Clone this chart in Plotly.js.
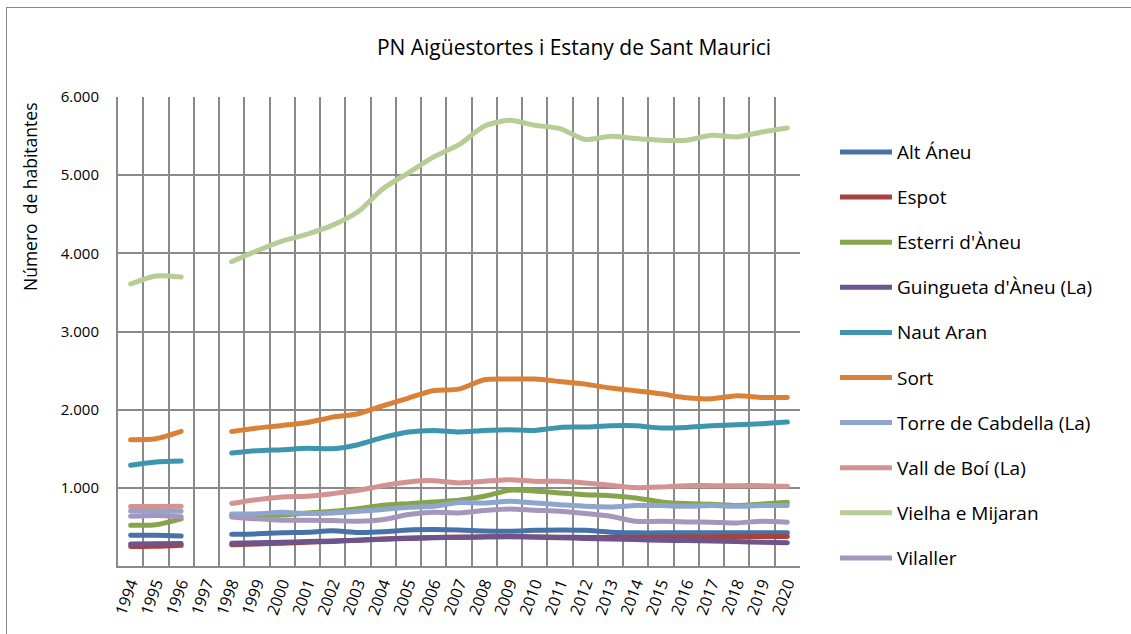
<!DOCTYPE html>
<html>
<head>
<meta charset="utf-8">
<script src="https://cdn.plot.ly/plotly-3.0.1.min.js"></script>
<style>
  html, body { margin: 0; padding: 0; background: #fff; }
  #wrap { position: relative; width: 1131px; height: 634px; overflow: hidden; }
  #chart { position: absolute; left: 0; top: 0; width: 1131px; height: 634px; }
  #frame { position: absolute; left: 6px; top: 7px; width: 1140px; height: 640px;
           border: 1px solid #8a8a8a; box-sizing: border-box; pointer-events: none; }
  .js-line { stroke-linecap: round; stroke-linejoin: round; }
</style>
</head>
<body>
<div id="wrap">
  <div id="chart"></div>
  <div id="frame"></div>
</div>
<script>
// ---- Data ----
const years = ["1994","1995","1996","1997","1998","1999","2000","2001","2002","2003","2004","2005","2006","2007","2008","2009","2010","2011","2012","2013","2014","2015","2016","2017","2018","2019","2020"];

const altAneu      = [392, 392, 383, null, 405, 411, 424, 432, 450, 428, 437, 462, 466, 462, 448, 445, 456, 462, 456, 432, 424, 424, 424, 424, 424, 424, 424];
const espot        = [250, 252, 265, null, 272, 282, 292, 303, 315, 330, 345, 358, 365, 370, 373, 375, 372, 368, 365, 365, 366, 368, 370, 372, 374, 376, 378];
const esterri      = [522, 528, 603, null, 645, 645, 652, 679, 700, 734, 777, 798, 820, 840, 892, 970, 960, 935, 913, 900, 871, 820, 798, 790, 773, 794, 815];
const guingueta    = [283, 285, 288, null, 292, 298, 305, 312, 320, 330, 342, 352, 360, 366, 372, 376, 370, 362, 352, 345, 338, 330, 325, 320, 312, 305, 298];
const nautAran     = [1288, 1331, 1343, null, 1446, 1475, 1488, 1505, 1500, 1552, 1645, 1714, 1734, 1714, 1734, 1743, 1734, 1773, 1778, 1794, 1794, 1765, 1773, 1794, 1807, 1820, 1841];
const sort         = [1616, 1628, 1722, null, 1722, 1765, 1798, 1837, 1905, 1948, 2050, 2148, 2245, 2263, 2382, 2391, 2391, 2360, 2327, 2276, 2241, 2203, 2152, 2139, 2178, 2156, 2156];
const torre        = [705, 705, 700, null, 665, 667, 688, 671, 679, 700, 722, 751, 764, 812, 807, 828, 807, 785, 764, 756, 773, 773, 764, 773, 764, 773, 773];
const vallBoi      = [760, 760, 764, null, 800, 849, 884, 892, 926, 968, 1028, 1075, 1092, 1062, 1083, 1105, 1083, 1083, 1062, 1032, 1003, 1011, 1028, 1028, 1028, 1028, 1020];
const vielha       = [3608, 3710, 3697, null, 3893, 4033, 4157, 4246, 4361, 4531, 4830, 5030, 5234, 5390, 5626, 5703, 5638, 5596, 5456, 5498, 5468, 5447, 5447, 5511, 5489, 5553, 5604];
const vilaller     = [636, 645, 630, null, 628, 603, 585, 585, 581, 572, 594, 658, 688, 679, 709, 730, 713, 700, 671, 636, 572, 572, 564, 560, 551, 572, 560];

const seriesNames  = ["Alt Áneu","Espot","Esterri d'Àneu","Guingueta d'Àneu (La)","Naut Aran","Sort","Torre de Cabdella (La)","Vall de Boí (La)","Vielha e Mijaran","Vilaller"];
const seriesValues = [altAneu, espot, esterri, guingueta, nautAran, sort, torre, vallBoi, vielha, vilaller];
const seriesColors = ["#4672A8","#A8423F","#86A44A","#6E548D","#3D96AE","#DA8137","#8EA6CD","#D29392","#B7CD96","#A597BB"];

const yTicks = [1000, 2000, 3000, 4000, 5000, 6000];
const titleText = "PN Aigüestortes i Estany de Sant Maurici";
const yTitleText = "Número  de habitantes";

// ---- Layout constants ----
const W = 1131, H = 634;
const M = {l: 118, r: 331, t: 97, b: 68};
const plotW = W - M.l - M.r, plotH = H - M.t - M.b;
const px2x = px => (px - M.l) / plotW;
const px2y = py => (H - M.b - py) / plotH;
const FONT = "'Open Sans', Lato, sans-serif";
const gridColor = "#8a8a8a";
const LW = 5;

const traces = seriesNames.map((name, i) => ({
  type: "scatter",
  mode: "lines",
  name: name,
  x: years,
  y: seriesValues[i],
  connectgaps: false,
  line: {color: seriesColors[i], width: LW, shape: "spline", smoothing: 0.7},
  showlegend: false,
  hoverinfo: "x+y+name"
}));

// custom legend (long line samples like the reference)
const shapes = [];
const annotations = [];
const legY0 = 152, legStep = 45.1;
seriesNames.forEach((name, i) => {
  const yc = legY0 + i * legStep;
  shapes.push({
    type: "line", xref: "paper", yref: "paper",
    x0: px2x(840), x1: px2x(892), y0: px2y(yc), y1: px2y(yc),
    line: {color: seriesColors[i], width: LW}
  });
  annotations.push({
    xref: "paper", yref: "paper", x: px2x(895), y: px2y(yc),
    xanchor: "left", yanchor: "middle", showarrow: false,
    text: name, font: {family: FONT, size: 19, color: "#000"}
  });
});
annotations.push({
  xref: "paper", yref: "paper", x: px2x(30), y: px2y(197),
  xanchor: "center", yanchor: "middle", showarrow: false, textangle: -90,
  text: yTitleText, font: {family: FONT, size: 17.5, color: "#000"}
});

const layout = {
  width: W, height: H,
  margin: M,
  paper_bgcolor: "#fff", plot_bgcolor: "#fff",
  separators: ",.",
  font: {family: FONT, color: "#000"},
  title: {text: titleText, x: 574 / W, xanchor: "center", y: 1 - 48 / H, yanchor: "middle",
          font: {family: FONT, size: 21, color: "#000"}},
  xaxis: {
    type: "category",
    categoryorder: "array", categoryarray: years,
    range: [-0.5, years.length - 0.5],
    tickson: "boundaries",
    showgrid: true, gridcolor: gridColor, gridwidth: 2,
    showline: true, linecolor: gridColor, linewidth: 2, mirror: false,
    ticks: "", tickangle: -70,
    tickfont: {family: FONT, size: 16, color: "#000"},
    zeroline: false, fixedrange: true
  },
  yaxis: {
    range: [0, 6000],
    tickvals: yTicks, tickformat: ",d",
    showgrid: true, gridcolor: gridColor, gridwidth: 2,
    showline: true, linecolor: gridColor, linewidth: 2,
    ticks: "", ticklabelstandoff: 14,
    tickfont: {family: FONT, size: 15, color: "#000"},
    zeroline: false, fixedrange: true
  },
  shapes: shapes,
  annotations: annotations
};

Plotly.newPlot("chart", traces, layout, {displayModeBar: false});
</script>
</body>
</html>
